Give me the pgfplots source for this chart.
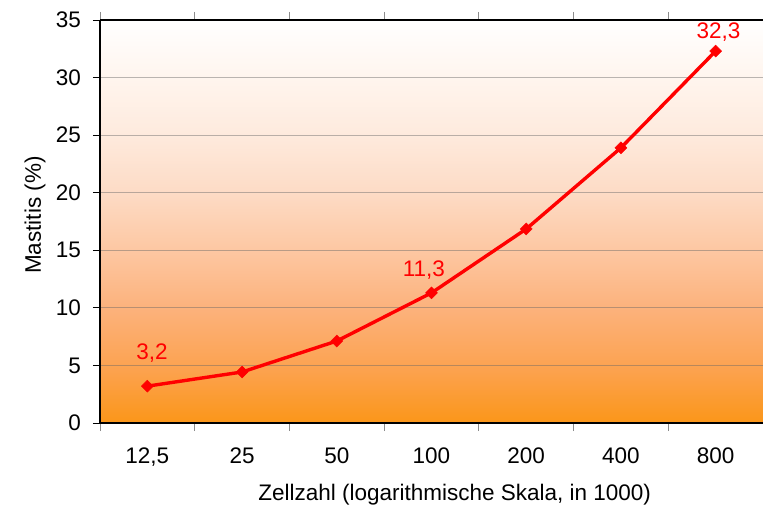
\documentclass[border=0pt]{standalone}
\usepackage{fontspec}
\setmainfont{Liberation Sans}
\usepackage{pgfplots}
\pgfplotsset{compat=1.18}
\definecolor{c0}{RGB}{251,150,25}
\definecolor{c5}{RGB}{252,163,82}
\definecolor{c10}{RGB}{252,178,124}
\definecolor{c15}{RGB}{253,199,162}
\definecolor{c20}{RGB}{253,219,197}
\definecolor{c25}{RGB}{254,234,221}
\definecolor{c30}{RGB}{255,245,238}
\definecolor{c35}{RGB}{255,255,255}
\definecolor{linered}{RGB}{255,0,0}
\pgfdeclareverticalshading{bgshade}{100bp}{color(0bp)=(c0); color(25bp)=(c0); color(32.14bp)=(c5); color(39.29bp)=(c10); color(46.43bp)=(c15); color(53.57bp)=(c20); color(60.71bp)=(c25); color(67.86bp)=(c30); color(75bp)=(c35); color(100bp)=(c35)}
\begin{document}
\fontsize{22.5bp}{26bp}\selectfont
\begin{tikzpicture}
\useasboundingbox (-100bp,-84bp) rectangle (663bp,423bp);
\begin{axis}[
  at={(0,0)}, anchor=south west,
  scale only axis, width=663bp, height=403bp,
  /pgf/number format/assume math mode=true,
  font=\fontsize{22.5bp}{26bp}\selectfont,
  xmin=-0.5, xmax=6.5, ymin=0, ymax=35,
  axis x line*=box, axis y line*=left,
  axis line style={black, line width=1.2bp},
  axis background/.style={shading=bgshade},
  ytick={0,5,...,35},
  ymajorgrids, major grid style={black!60, opacity=0.45, line width=0.9bp},
  xtick={0,...,6},
  xticklabels={{12,5},{25},{50},{100},{200},{400},{800}},
  minor xtick={-0.5,0.5,...,6.5},
  xtick style={draw=none},
  minor x tick style={draw=black!45, line width=0.9bp},
  minor tick length=8bp,
  major tick length=7bp,
  tick align=outside,
  ytick style={black, line width=0.9bp},
  xticklabel style={anchor=base, yshift=-33bp},
  yticklabel style={anchor=east, inner sep=0pt, xshift=-12bp},
  xlabel={Zellzahl (logarithmische Skala, in 1000)},
  xlabel style={at={(axis description cs:0.535,-0.179)}, anchor=center},
  ylabel={Mastitis (\%)},
  ylabel style={at={(axis description cs:-0.098,0.516)}, anchor=center, rotate=0},
  clip=false,
]
\addplot[linered, line width=3.4bp, mark=square*, mark size=4.2bp, mark options={rotate=45, fill=linered, draw=linered, line width=0.5bp}]
coordinates {(0,3.2) (1,4.43) (2,7.12) (3,11.3) (4,16.85) (5,23.9) (6,32.3)};
\node[text=linered, anchor=center] at (axis cs:0.05,3.2) [yshift=33bp] {3,2};
\node[text=linered, anchor=center] at (axis cs:2.92,11.3) [yshift=23bp] {11,3};
\node[text=linered, anchor=center] at (axis cs:6.03,32.3) [yshift=19bp] {32,3};
\end{axis}
\end{tikzpicture}
\end{document}
